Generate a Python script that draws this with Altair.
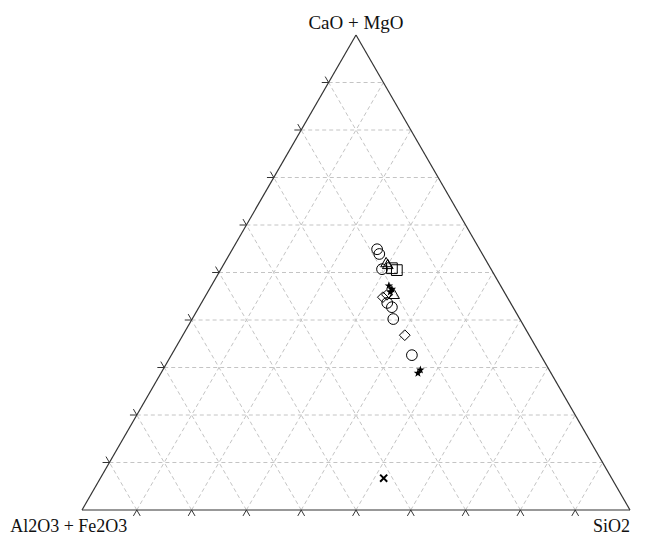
import math
import altair as alt
import pandas as pd

H = math.sqrt(3) / 2

# ternary axes labels
apex_top = "CaO + MgO"
apex_left = "Al2O3 + Fe2O3"
apex_right = "SiO2"
grid_pct = [10, 20, 30, 40, 50, 60, 70, 80, 90]

# open markers: CaO+MgO %, SiO2 % (Al2O3+Fe2O3 = remainder)
open_shape = ["circle", "circle", "triangle-up", "circle", "square", "square",
              "triangle-up", "triangle-up", "diamond", "diamond", "circle",
              "circle", "circle", "diamond", "circle"]
open_cao = [54.9, 53.9, 52.2, 50.7, 50.9, 50.5, 51.8, 45.5, 44.8, 45.3, 43.6,
            42.7, 40.2, 36.8, 32.6]
open_sio = [26.4, 27.3, 29.4, 29.4, 31.1, 32.2, 29.9, 34.2, 32.5, 33.0, 33.9,
            35.2, 36.7, 40.5, 43.9]

# filled stars
star_cao = [47.2, 46.5, 45.9, 28.8, 29.5]
star_sio = [32.4, 33.3, 33.3, 46.9, 47.0]

# cross
cross_cao = [6.7]
cross_sio = [51.7]


def to_xy(cao, sio):
    c = cao / 100.0
    s = sio / 100.0
    return s + 0.5 * c, c * H


def pts(cs, ss, extra=None):
    rows = []
    for i, (c, s) in enumerate(zip(cs, ss)):
        x, y = to_xy(c, s)
        r = {"x": x, "y": y, "CaO+MgO": c, "SiO2": s, "Al2O3+Fe2O3": round(100 - c - s, 1)}
        if extra is not None:
            r["shape"] = extra[i]
        rows.append(r)
    return pd.DataFrame(rows)


# grid segments
grid_rows = []
tick_rows = []
L = 0.0125
for p in grid_pct:
    f = p / 100.0
    grid_rows.append({"x": 0.5 * f, "y": f * H, "x2": 1 - 0.5 * f, "y2": f * H})
    grid_rows.append({"x": f, "y": 0, "x2": f + 0.5 * (1 - f), "y2": (1 - f) * H})
    grid_rows.append({"x": 1 - f, "y": 0, "x2": 0.5 * (1 - f), "y2": (1 - f) * H})
    tick_rows.append({"x": f, "y": 0, "x2": f - 0.5 * L, "y2": -H * L})
    tick_rows.append({"x": f, "y": 0, "x2": f + 0.5 * L, "y2": -H * L})
    lx, ly = 0.5 * f, f * H
    tick_rows.append({"x": lx, "y": ly, "x2": lx - L, "y2": ly})
    tick_rows.append({"x": lx, "y": ly, "x2": lx - 0.5 * L, "y2": ly + H * L})

grid_df = pd.DataFrame(grid_rows)
tick_df = pd.DataFrame(tick_rows)
edge_df = pd.DataFrame([
    {"x": 0, "y": 0, "x2": 1, "y2": 0},
    {"x": 0, "y": 0, "x2": 0.5, "y2": H},
    {"x": 1, "y": 0, "x2": 0.5, "y2": H},
])

xs = alt.Scale(domain=[0, 1], nice=False, zero=False)
ys = alt.Scale(domain=[0, H], nice=False, zero=False)
X = alt.X("x:Q", scale=xs, axis=None)
Y = alt.Y("y:Q", scale=ys, axis=None)

grid = alt.Chart(grid_df).mark_rule(color="#c4c4c4", strokeDash=[4, 3], strokeWidth=1).encode(
    x=X, y=Y, x2="x2:Q", y2="y2:Q")
ticks = alt.Chart(tick_df).mark_rule(color="#333333", strokeWidth=1, clip=False).encode(
    x=X, y=Y, x2="x2:Q", y2="y2:Q")
edges = alt.Chart(edge_df).mark_rule(color="#333333", strokeWidth=1.2).encode(
    x=X, y=Y, x2="x2:Q", y2="y2:Q")

open_pts = alt.Chart(pts(open_cao, open_sio, open_shape)).mark_point(
    filled=False, color="black", strokeWidth=1, size=115, opacity=1).encode(
    x=X, y=Y,
    shape=alt.Shape("shape:N", scale=alt.Scale(
        domain=["circle", "triangle-up", "square", "diamond"],
        range=["circle", "triangle-up", "square", "diamond"]), legend=None))

star_path = ("M0,-1L0.24,-0.31L0.95,-0.31L0.38,0.12L0.59,0.81L0,0.4L-0.59,0.81"
             "L-0.38,0.12L-0.95,-0.31L-0.24,-0.31Z")
stars = alt.Chart(pts(star_cao, star_sio)).mark_point(
    shape=star_path, filled=True, color="black", size=80, opacity=1).encode(x=X, y=Y)

cross = alt.Chart(pts(cross_cao, cross_sio)).mark_point(
    shape="M-1,-1L1,1M-1,1L1,-1", filled=False, color="black", strokeWidth=2,
    size=50, opacity=1).encode(x=X, y=Y)

top_lab = alt.Chart(pd.DataFrame([{"x": 0.5, "y": H + 0.022, "t": apex_top}])).mark_text(
    font="Liberation Serif", fontSize=19, color="#111111", baseline="middle",
    align="center", clip=False).encode(x=X, y=Y, text="t:N")
left_lab = alt.Chart(pd.DataFrame([{"x": -0.131, "y": -0.041, "t": apex_left}])).mark_text(
    font="Liberation Serif", fontSize=18, color="#111111", baseline="alphabetic",
    align="left", clip=False).encode(x=X, y=Y, text="t:N")
right_lab = alt.Chart(pd.DataFrame([{"x": 1.0, "y": -0.041, "t": apex_right}])).mark_text(
    font="Liberation Serif", fontSize=18, color="#111111", baseline="alphabetic",
    align="right", clip=False).encode(x=X, y=Y, text="t:N")

chart = alt.layer(grid, ticks, edges, open_pts, stars, cross, top_lab, left_lab, right_lab).properties(
    width=548, height=475,
    background="white",
    autosize=alt.AutoSizeParams(type="none"),
    padding={"left": 74, "top": 27, "right": 13, "bottom": 28},
).configure_view(strokeWidth=0, stroke=None)

chart.save("out.html", embed_options={"renderer": "svg", "actions": False})
